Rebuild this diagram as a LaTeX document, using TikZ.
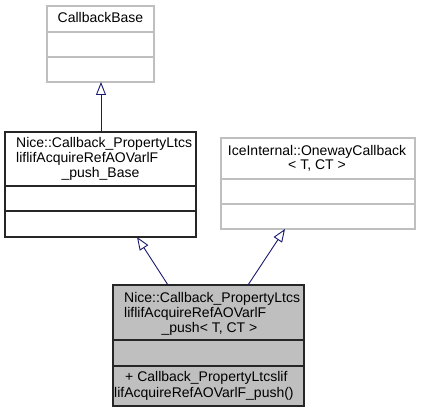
\documentclass[tikz,border=0pt]{standalone}
\usepackage{fontspec}
\setmainfont{Liberation Sans}
\usetikzlibrary{arrows.meta}
\definecolor{edgeblue}{HTML}{191970}
\definecolor{lightframe}{HTML}{BFBFBF}
\definecolor{boxfill}{HTML}{BFBFBF}
\tikzset{
  txt/.style={inner sep=0pt, font=\fontsize{14}{15}\selectfont},
  lt/.style={txt, anchor=base west},
  ct/.style={txt, anchor=base},
  darkbox/.style={draw=black!85, line width=1.1pt},
  greybox/.style={draw=lightframe, line width=1.1pt},
  inherit/.style={draw=edgeblue, line width=0.9pt, -{Triangle[open, length=13pt, width=10pt, line width=0.9pt]}}
}
\begin{document}
\begin{tikzpicture}[x=1pt,y=-1pt]
\useasboundingbox (0,0) rectangle (421,412);
% CallbackBase
\draw[greybox] (47,6) rectangle (154,82);
\draw[greybox] (47,32) -- (154,32);
\draw[greybox] (47,57) -- (154,57);
\node[ct] (cb) at (100.5,22.5) {CallbackBase};
\coordinate (cbB) at (101,82);
% Nice base
\draw[darkbox] (5,132) rectangle (196,237);
\draw[darkbox] (5,186) -- (196,186);
\draw[darkbox] (5,211) -- (196,211);
\node[lt] (nb1) at (16,147.5) {Nice::Callback\_PropertyLtcs};
\node[lt] (nb2) at (16,162.5) {liflifAcquireRefAOVarlF};
\node[ct] (nb3) at (100.5,177) {\_push\_Base};
\coordinate (nbT) at (101,132);
\coordinate (nbB) at (137,237);
% IceInternal
\draw[greybox] (221,138) rectangle (415,229);
\draw[greybox] (221,179) -- (415,179);
\draw[greybox] (221,204) -- (415,204);
\node[ct] (ic1) at (317,155) {IceInternal::OnewayCallback};
\node[ct] (ic2) at (317,169.5) {< T, CT >};
\coordinate (icB) at (285,229);
% Bottom class
\draw[darkbox, fill=boxfill] (113,285) rectangle (304,406);
\draw[darkbox] (113,340) -- (304,340);
\draw[darkbox] (113,366) -- (304,366);
\node[lt] (bt1) at (124,302.5) {Nice::Callback\_PropertyLtcs};
\node[lt] (bt2) at (124,317.5) {liflifAcquireRefAOVarlF};
\node[ct] (bt3) at (209.5,332) {\_push< T, CT >};
\node[lt] (bm1) at (125,381.5) {+ Callback\_PropertyLtcslif};
\node[lt] (bm2) at (114,397) {lifAcquireRefAOVarlF\_push()};
\coordinate (btL) at (168,285);
\coordinate (btR) at (248,285);
% inheritance edges
\draw[inherit] (nbT) -- (cbB);
\draw[inherit] (btL) -- (nbB);
\draw[inherit] (btR) -- (icB);
\end{tikzpicture}
\end{document}
